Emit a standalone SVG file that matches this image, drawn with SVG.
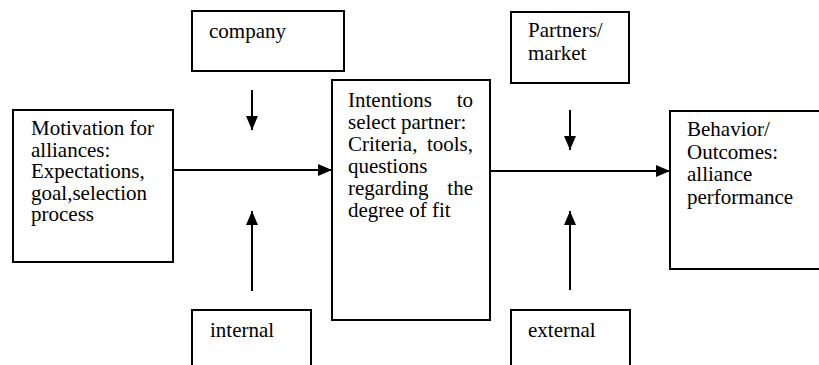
<svg xmlns="http://www.w3.org/2000/svg" width="819" height="365" viewBox="0 0 819 365">
<style>
.box{fill:#fff;stroke:#000;stroke-width:2}
.t{font-family:"Liberation Serif","Times New Roman",serif;font-size:21px;fill:#000}
.c{stroke:#000;stroke-width:2;fill:none}
</style>
<defs>
<marker id="ah" viewBox="0 0 14 12" refX="14" refY="6" markerWidth="14" markerHeight="12" markerUnits="userSpaceOnUse" orient="auto">
<path d="M0,0 L14,6 L0,12 Z" fill="#000"/>
</marker>
</defs>
<rect width="819" height="365" fill="#fff"/>
<g id="connectors">
<line class="c" x1="173" y1="170" x2="332" y2="170" marker-end="url(#ah)"/>
<line class="c" x1="490" y1="171" x2="670" y2="171" marker-end="url(#ah)"/>
<line class="c" x1="252" y1="90" x2="252" y2="130" marker-end="url(#ah)"/>
<line class="c" x1="252" y1="291" x2="252" y2="211" marker-end="url(#ah)"/>
<line class="c" x1="570" y1="110" x2="570" y2="150" marker-end="url(#ah)"/>
<line class="c" x1="570" y1="290" x2="570" y2="211" marker-end="url(#ah)"/>
</g>
<g id="motivation">
<rect class="box" x="13" y="110" width="160" height="152"/>
<text class="t" x="31" y="135">Motivation for</text>
<text class="t" x="31" y="156.5">alliances:</text>
<text class="t" x="31" y="178">Expectations,</text>
<text class="t" x="31" y="199.5">goal,selection</text>
<text class="t" x="31" y="221">process</text>
</g>
<g id="company">
<rect class="box" x="192" y="11" width="152" height="60"/>
<text class="t" x="209" y="38">company</text>
</g>
<g id="intentions">
<rect class="box" x="332" y="80" width="158" height="240"/>
<text class="t" x="348" y="107">Intentions</text>
<text class="t" x="473" y="107" text-anchor="end">to</text>
<text class="t" x="348" y="129">select partner:</text>
<text class="t" x="348" y="151">Criteria,</text>
<text class="t" x="473" y="151" text-anchor="end">tools,</text>
<text class="t" x="348" y="173">questions</text>
<text class="t" x="348" y="195">regarding</text>
<text class="t" x="473" y="195" text-anchor="end">the</text>
<text class="t" x="348" y="217">degree of fit</text>
</g>
<g id="partners">
<rect class="box" x="511" y="12" width="118" height="71"/>
<text class="t" x="528" y="37">Partners/</text>
<text class="t" x="528" y="60">market</text>
</g>
<g id="behavior">
<rect class="box" x="670" y="111" width="160" height="158"/>
<text class="t" x="687" y="136">Behavior/</text>
<text class="t" x="687" y="158.5">Outcomes:</text>
<text class="t" x="687" y="181">alliance</text>
<text class="t" x="687" y="203.5">performance</text>
</g>
<g id="internal">
<rect class="box" x="192" y="310" width="119" height="70"/>
<text class="t" x="210" y="337">internal</text>
</g>
<g id="external">
<rect class="box" x="511" y="310" width="119" height="70"/>
<text class="t" x="528" y="337">external</text>
</g>
</svg>
